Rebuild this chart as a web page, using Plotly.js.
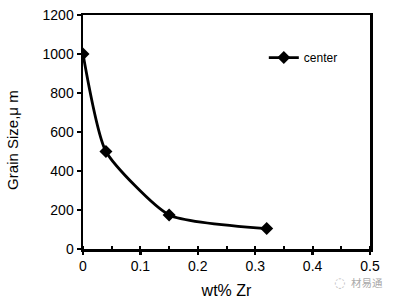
<!DOCTYPE html>
<html>
<head>
<meta charset="utf-8">
<script src="https://cdn.plot.ly/plotly-3.0.1.min.js"></script>
<style>html,body{margin:0;padding:0;background:#fff;}#chart{width:397px;height:302px;}</style>
</head>
<body>
<div id="chart"></div>
<script>
// Data
const zrContent = [0, 0.04, 0.15, 0.32];           // wt% Zr
const grainSizeCenter = [1000, 500, 175, 105];       // Grain size, µm
const seriesName = "center";
const xTickVals = [0, 0.1, 0.2, 0.3, 0.4, 0.5];
const xTickText = ["0", "0.1", "0.2", "0.3", "0.4", "0.5"];
const yTickVals = [0, 200, 400, 600, 800, 1000, 1200];
const yTitle = "Grain Size,μ m";
const xTitle = "wt% Zr";
const watermark = "材易通";

const FONT = "Liberation Sans, Arial, Helvetica, sans-serif";

const trace = {
  x: zrContent,
  y: grainSizeCenter,
  name: seriesName,
  type: "scatter",
  mode: "lines+markers",
  line: {color: "#000", width: 2.8, shape: "spline", smoothing: 0.55},
  marker: {symbol: "diamond", size: 10, color: "#000"},
  showlegend: true
};

const layout = {
  width: 397, height: 302,
  margin: {l: 83, r: 27, t: 15, b: 53, pad: 0},
  paper_bgcolor: "#fff", plot_bgcolor: "#fff",
  font: {family: FONT, color: "#000", size: 14},
  showlegend: true,
  legend: {x: 0.63, y: 0.88, xanchor: "left", yanchor: "top",
           bgcolor: "rgba(0,0,0,0)", font: {family: FONT, size: 12, color: "#000"},
           itemwidth: 30},
  xaxis: {
    range: [0, 0.5], tickvals: xTickVals, ticktext: xTickText,
    showgrid: false, zeroline: false,
    showline: true, linecolor: "#000", linewidth: 2.5, mirror: true,
    ticks: "outside", ticklen: 3, tickwidth: 2.5, tickcolor: "#000",
    minor: {dtick: 0.05, ticks: "inside", ticklen: 3, tickwidth: 2, tickcolor: "#000", showgrid: false},
    tickfont: {family: FONT, size: 14},
    title: {text: xTitle, font: {family: FONT, size: 16}, standoff: 12}
  },
  yaxis: {
    range: [0, 1200], tickvals: yTickVals,
    showgrid: false, zeroline: false,
    showline: true, linecolor: "#000", linewidth: 2.5, mirror: true,
    ticks: "outside", ticklen: 4, tickwidth: 2, tickcolor: "#000",
    tickfont: {family: FONT, size: 14}
  },
  annotations: [
    {xref: "paper", yref: "paper", x: -0.245, y: 0.465, xanchor: "center", yanchor: "middle",
     text: yTitle, textangle: -90, showarrow: false,
     font: {family: FONT, size: 15, color: "#000"}},
    {xref: "paper", yref: "paper", x: 1.052, y: -0.145, xanchor: "right", yanchor: "middle",
     text: watermark, showarrow: false,
     font: {family: "Noto Sans CJK SC, sans-serif", size: 10.5, color: "#aaa"}},
    {xref: "paper", yref: "paper", x: 0.895, y: -0.145, xanchor: "center", yanchor: "middle",
     text: "◌", showarrow: false,
     font: {family: "DejaVu Sans, sans-serif", size: 13, color: "#bbb"}}
  ]
};

Plotly.newPlot("chart", [trace], layout, {displayModeBar: false, staticPlot: true});
</script>
</body>
</html>
